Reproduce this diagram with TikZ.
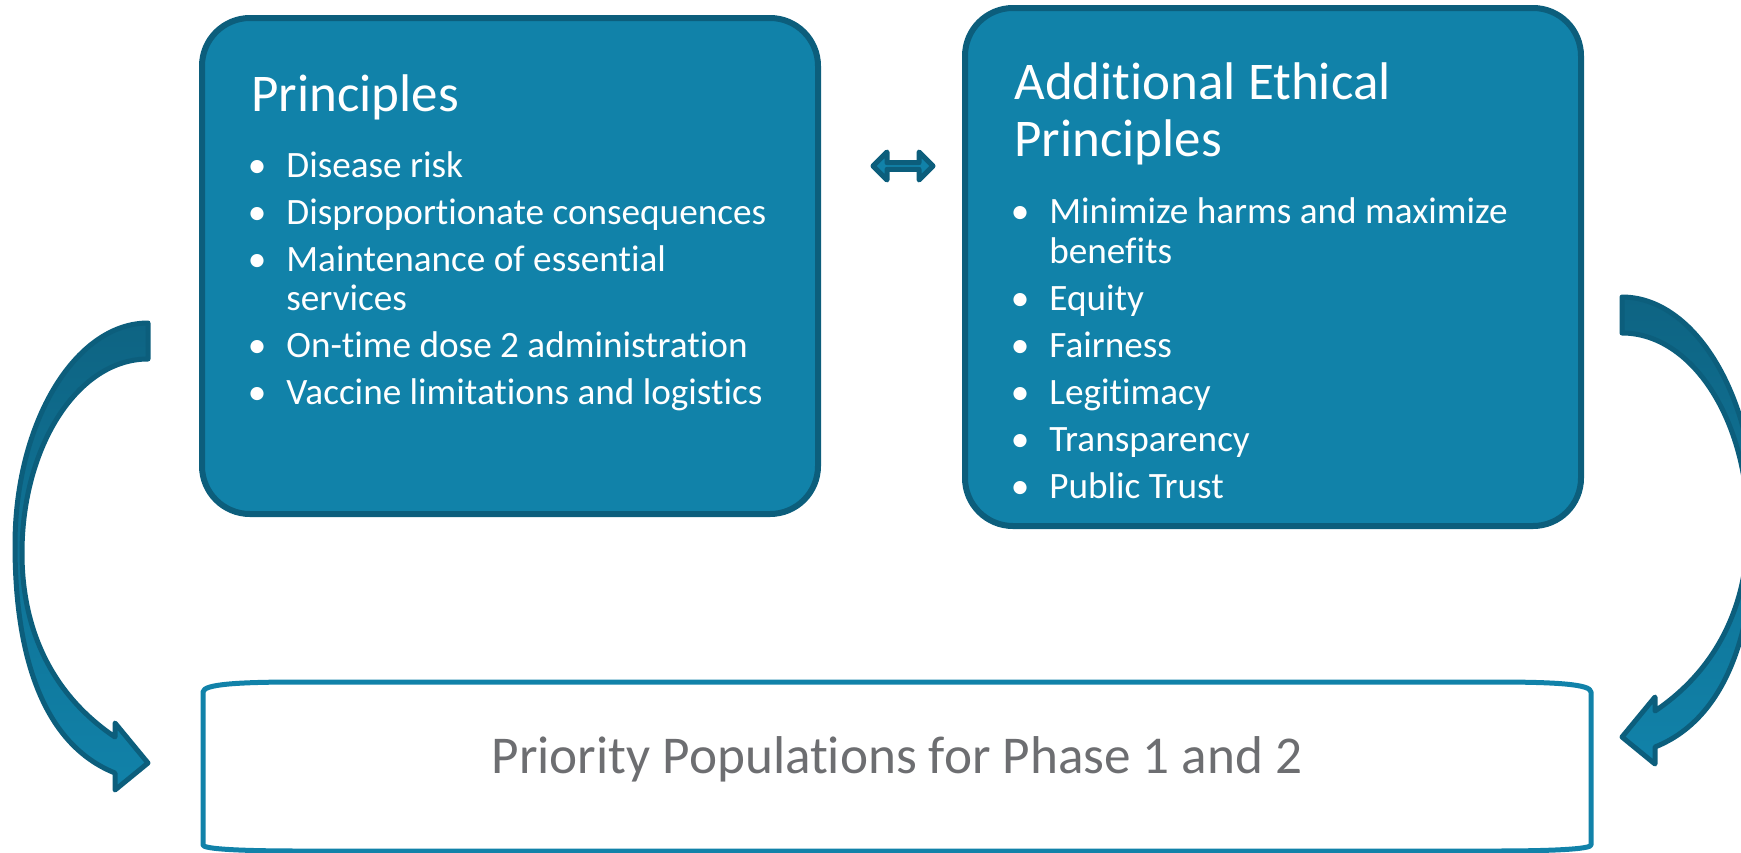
\documentclass[tikz,border=0pt]{standalone}
\usepackage{fontspec}
\setmainfont[Ligatures=NoCommon]{Carlito}
\usepackage{tikz}
\usetikzlibrary{shapes.arrows}
\definecolor{boxblue}{HTML}{1182A9}
\definecolor{boxedge}{HTML}{0C5E7C}
\definecolor{arrowdark}{HTML}{0E6483}
\definecolor{textgray}{HTML}{6D6E71}
\newcommand{\bendarrow}{(148,323) .. controls (75,323) and (15,423) .. (15,545)
  .. controls (15,660) and (45,745) .. (115,773) -- (115,790) -- (148,763)
  -- (115,723) -- (115,737) .. controls (60,700) and (22,640) .. (22,553)
  .. controls (22,446) and (78,359) .. (148,359) -- cycle}

\begin{document}
\begin{tikzpicture}[x=0.5pt,y=-0.5pt,
  panel/.style={draw=boxedge,fill=boxblue,line width=3pt,rounded corners=24pt,inner sep=0pt},
  curvearrow/.style={draw=boxedge,line width=2.5pt,line join=round,top color=arrowdark,middle color=arrowdark,bottom color=boxblue},
  link/.style={double arrow,draw=boxedge,fill=boxblue,line width=2.5pt,line join=round,
    minimum height=30pt,minimum width=14pt,double arrow head extend=4pt,inner sep=0pt},
  head/.style={anchor=base west,inner sep=0pt,text=white,font=\fontsize{26.5}{30}\selectfont},
  item/.style={anchor=base west,inner sep=0pt,text=white,font=\fontsize{18.6}{21}\selectfont},
  bul/.style={item,execute at begin node={\llap{\textbullet\hspace{10pt}}}},
  prio/.style={anchor=base,inner sep=0pt,text=textgray,font=\fontsize{26.6}{30}\selectfont}]
\useasboundingbox (0,0) rectangle (1741,852);
\clip (0,0) rectangle (1741,852);

\node[panel,minimum width=308pt,minimum height=248pt] (prin) at (510,266) {};
\node[panel,minimum width=308pt,minimum height=259pt] (eth) at (1273,267) {};
\node[link] (link) at (903,166) {};

\draw[curvearrow] \bendarrow;
\begin{scope}[shift={(1770,-26)},xscale=-1]
\draw[curvearrow] \bendarrow;
\end{scope}

\draw[draw=boxblue,fill=white,line width=2.5pt,line join=round]
  (203,692) .. controls (203,684) and (240,682) .. (300,682) -- (1494,682)
  .. controls (1554,682) and (1591,684) .. (1591,692) -- (1591,845)
  .. controls (1591,849) and (1554,851) .. (1494,851) -- (300,851)
  .. controls (240,851) and (203,849) .. (203,845) -- cycle;

\node[head] (prin-h) at (251,111) {Principles};
\node[bul] (prin-1) at (286,177) {Disease risk};
\node[bul] (prin-2) at (286,224) {Disproportionate consequences};
\node[bul] (prin-3) at (286,271) {Maintenance of essential};
\node[item] (prin-3b) at (286,310) {services};
\node[bul] (prin-4) at (286,357) {On-time dose 2 administration};
\node[bul] (prin-5) at (286,404) {Vaccine limitations and logistics};

\node[head] (eth-h) at (1014,99) {Additional Ethical};
\node[head] (eth-h2) at (1014,156) {Principles};
\node[bul] (eth-1) at (1049,223) {Minimize harms and maximize};
\node[item] (eth-1b) at (1049,263) {benefits};
\node[bul] (eth-2) at (1049,310) {Equity};
\node[bul] (eth-3) at (1049,357) {Fairness};
\node[bul] (eth-4) at (1049,404) {Legitimacy};
\node[bul] (eth-5) at (1049,451) {Transparency};
\node[bul] (eth-6) at (1049,498) {Public Trust};

\node[prio] (prio) at (897,773) {Priority Populations for Phase 1 and 2};
\end{tikzpicture}
\end{document}
